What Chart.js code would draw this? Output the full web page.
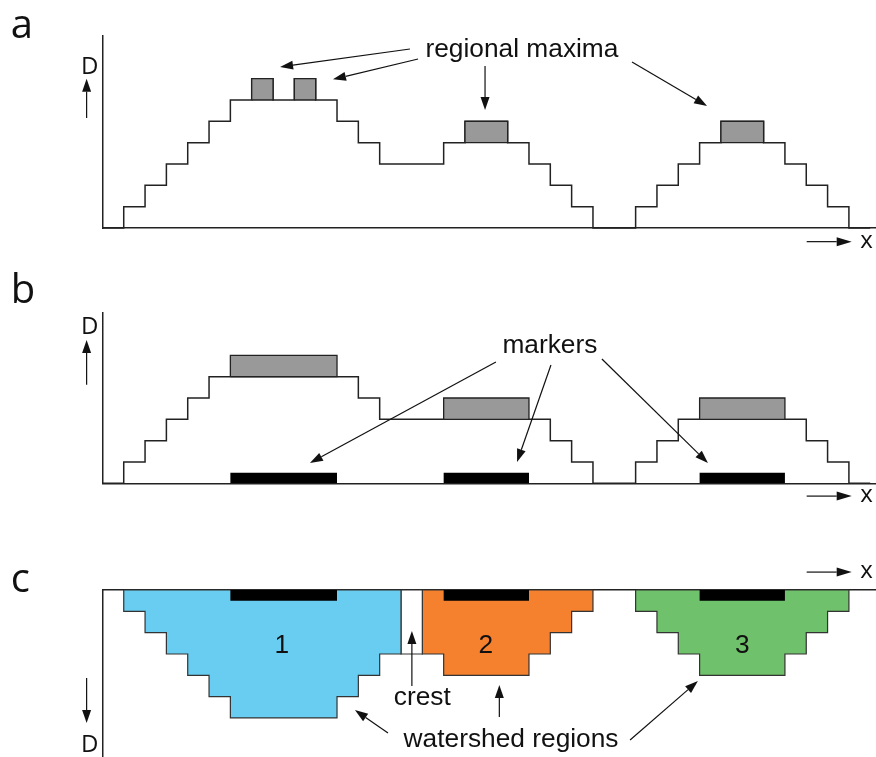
<!DOCTYPE html>
<html>
<head>
<meta charset="utf-8">
<script src="https://cdn.jsdelivr.net/npm/chart.js@4.4.1/dist/chart.umd.min.js"></script>
<style>
  html, body { margin: 0; padding: 0; background: #fff; }
  #wrap { position: relative; width: 876px; height: 757px; overflow: hidden; }
  canvas { position: absolute; left: 0; }
</style>
</head>
<body>
<div id="wrap">
  <canvas id="panelA" width="876" height="255" style="top:0px"></canvas>
  <canvas id="panelB" width="876" height="260" style="top:255px"></canvas>
  <canvas id="panelC" width="876" height="242" style="top:515px"></canvas>
</div>
<script>
// profile height D per x step (panel a: original, panel b: after marking)
const heightsA = [0,1,2,3,4,5,6,7,6,7,6,5,4,3,3,3,4,5,5,4,3,2,1,0,0,1,2,3,4,5,5,4,3,2,1,0];
const heightsB = [0,1,2,3,4,5,5,5,5,5,5,5,4,3,3,3,3,3,3,3,3,2,1,0,0,1,2,3,3,3,3,3,3,2,1,0];

// grey blocks: [x0, x1, y0, y1]
const maximaA = [[7,8,6,7],[9,10,6,7],[17,19,4,5],[29,31,4,5]];
const plateausB = [[6,11,5,6],[16,20,3,4],[28,32,3,4]];

// black markers: [x0, x1], thickness in D units
const markerSpans = [[6,11],[16,20],[28,32]];
const markerThick = 0.5;

// panel c: depth per column for each watershed region (starting column + depths)
const region1 = {start: 1, depth: [1,2,3,4,5,6,6,6,6,6,5,4,3]};
const crestCol = {start: 14, depth: [3]};
const region2 = {start: 15, depth: [3,4,4,4,4,3,2,1]};
const region3 = {start: 25, depth: [1,2,3,4,4,4,4,3,2,1]};
const regionColors = ['#68cdf1', '#f5812f', '#6fc16b'];

const X_MAX = 36.27;
const LINE = '#222222';
const LABEL_FONT = '26.3px "Liberation Sans", Arial, sans-serif';
const AXIS_FONT = '24px "Open Sans", sans-serif';
const PANEL_FONT = '40px "Open Sans", sans-serif';

function stepPoints(h) {
  const pts = h.map((v, i) => ({x: i, y: v}));
  pts.push({x: h.length, y: 0});
  return pts;
}
function rectPoints(x0, x1, y0, y1) {
  return [{x:x0,y:y0},{x:x1,y:y0},{x:x1,y:y1},{x:x0,y:y1},{x:x0,y:y0}];
}
function regionPoints(r) {
  const end = r.start + r.depth.length;
  const pts = [{x: r.start, y: 0}, {x: end, y: 0}];
  for (let i = r.depth.length - 1; i >= 0; i--) {
    pts.push({x: r.start + i + 1, y: r.depth[i]});
    pts.push({x: r.start + i, y: r.depth[i]});
  }
  pts.push({x: r.start, y: 0});
  return pts;
}

function profileSet(h) {
  return {data: stepPoints(h), stepped: true, borderColor: LINE, borderWidth: 1.5,
          fill: false, clip: false, pointRadius: 0};
}
function blockSet(b, color, border) {
  return {data: rectPoints(b[0], b[1], b[2], b[3]), backgroundColor: color, borderColor: border,
          borderWidth: border ? 1.3 : 0, fill: 'shape', clip: false, pointRadius: 0};
}
function regionSet(r, color) {
  return {data: regionPoints(r), backgroundColor: color, borderColor: '#333', borderWidth: 1.2,
          fill: 'shape', clip: false, pointRadius: 0};
}

// text and arrows, placed in data units of each panel
function notesPlugin(items) {
  return {
    id: 'notes',
    afterDraw(chart) {
      const {ctx, scales: {x, y}} = chart;
      ctx.save();
      ctx.fillStyle = '#111';
      ctx.strokeStyle = '#111';
      for (const it of items) {
        if (it.text) {
          ctx.font = it.font || LABEL_FONT;
          ctx.textAlign = it.align || 'center';
          ctx.textBaseline = 'alphabetic';
          ctx.fillText(it.text, x.getPixelForValue(it.x), y.getPixelForValue(it.y));
        } else {
          const x0 = x.getPixelForValue(it.from[0]), y0 = y.getPixelForValue(it.from[1]);
          const x1 = x.getPixelForValue(it.to[0]), y1 = y.getPixelForValue(it.to[1]);
          const a = Math.atan2(y1 - y0, x1 - x0);
          const len = it.head || 13, hw = 4.5;
          const bx = x1 - len * Math.cos(a), by = y1 - len * Math.sin(a);
          ctx.lineWidth = 1.2;
          ctx.beginPath(); ctx.moveTo(x0, y0); ctx.lineTo(bx, by); ctx.stroke();
          ctx.beginPath();
          ctx.moveTo(x1, y1);
          ctx.lineTo(bx + hw * Math.sin(a), by - hw * Math.cos(a));
          ctx.lineTo(bx - hw * Math.sin(a), by + hw * Math.cos(a));
          ctx.closePath(); ctx.fill();
        }
      }
      ctx.restore();
    }
  };
}

function options(yMax, pad, opts = {}) {
  const ax = {grid: {display: false, drawTicks: false}, ticks: {display: false},
              border: {display: true, color: LINE, width: 1.5}};
  return {
    responsive: false, animation: false, events: [],
    layout: {padding: pad},
    plugins: {legend: {display: false}, tooltip: {enabled: false}},
    elements: {line: {tension: 0}, point: {radius: 0}},
    scales: {
      x: Object.assign({type: 'linear', min: 0, max: X_MAX, position: opts.xTop ? 'top' : 'bottom'}, ax),
      y: Object.assign({type: 'linear', min: 0, max: yMax, reverse: !!opts.reverse}, ax)
    }
  };
}

// panel a
new Chart(document.getElementById('panelA'), {
  type: 'line',
  data: {datasets: [
    ...maximaA.map(b => blockSet(b, '#999999', LINE)),
    profileSet(heightsA)
  ]},
  options: options(9, {left: 102.4, right: 0, top: 36, bottom: 27}),
  plugins: [notesPlugin([
    {text: 'a', x: -4.3, y: 8.91, font: PANEL_FONT, align: 'left'},
    {text: 'D', x: -0.59, y: 7.22, font: AXIS_FONT},
    {from: [-0.74, 5.16], to: [-0.74, 7.0]},
    {from: [33.02, -0.64], to: [35.13, -0.64], head: 15},
    {text: 'x', x: 35.83, y: -0.92, font: AXIS_FONT},
    {text: 'regional maxima', x: 19.67, y: 8.03},
    {from: [14.42, 8.39], to: [8.33, 7.55]},
    {from: [14.8, 7.92], to: [10.81, 6.97]},
    {from: [17.94, 7.59], to: [17.94, 5.53]},
    {from: [24.83, 7.78], to: [28.35, 5.72]}
  ])]
});

// panel b
new Chart(document.getElementById('panelB'), {
  type: 'line',
  data: {datasets: [
    ...markerSpans.map(m => blockSet([m[0], m[1], 0, markerThick], '#000000', null)),
    ...plateausB.map(b => blockSet(b, '#999999', LINE)),
    profileSet(heightsB)
  ]},
  options: options(8, {left: 102.4, right: 0, top: 57.7, bottom: 31.7}),
  plugins: [notesPlugin([
    {text: 'b', x: -4.3, y: 8.45, font: PANEL_FONT, align: 'left'},
    {text: 'D', x: -0.6, y: 7.0, font: AXIS_FONT},
    {from: [-0.74, 4.62], to: [-0.74, 6.72]},
    {from: [33.02, -0.6], to: [35.13, -0.6], head: 15},
    {text: 'x', x: 35.83, y: -0.88, font: AXIS_FONT},
    {text: 'markers', x: 20.98, y: 6.11},
    {from: [18.45, 5.69], to: [9.73, 0.95]},
    {from: [21.03, 5.55], to: [19.44, 1.0]},
    {from: [23.42, 5.83], to: [28.39, 0.95]}
  ])]
});

// panel c
new Chart(document.getElementById('panelC'), {
  type: 'line',
  data: {datasets: [
    ...markerSpans.map(m => blockSet([m[0], m[1], 0, markerThick], '#000000', null)),
    regionSet(region1, regionColors[0]),
    regionSet(crestCol, '#ffffff'),
    regionSet(region2, regionColors[1]),
    regionSet(region3, regionColors[2])
  ]},
  options: options(7.83, {left: 102.4, right: 0, top: 75, bottom: 0}, {xTop: true, reverse: true}),
  plugins: [notesPlugin([
    {text: 'c', x: -4.3, y: 0.09, font: PANEL_FONT, align: 'left'},
    {from: [33.02, -0.84], to: [35.13, -0.84], head: 15},
    {text: 'x', x: 35.83, y: -0.56, font: AXIS_FONT},
    {from: [-0.74, 4.13], to: [-0.74, 6.24]},
    {text: 'D', x: -0.6, y: 7.6, font: AXIS_FONT},
    {text: '1', x: 8.41, y: 2.95},
    {text: '2', x: 17.98, y: 2.95},
    {text: '3', x: 30.0, y: 2.95},
    {text: 'crest', x: 15.0, y: 5.39},
    {from: [14.51, 4.5], to: [14.51, 1.92]},
    {text: 'watershed regions', x: 19.16, y: 7.36},
    {from: [13.39, 6.70], to: [11.84, 5.63]},
    {from: [18.61, 5.95], to: [18.61, 4.45]},
    {from: [24.74, 7.03], to: [27.92, 4.27]}
  ])]
});
</script>
</body>
</html>
